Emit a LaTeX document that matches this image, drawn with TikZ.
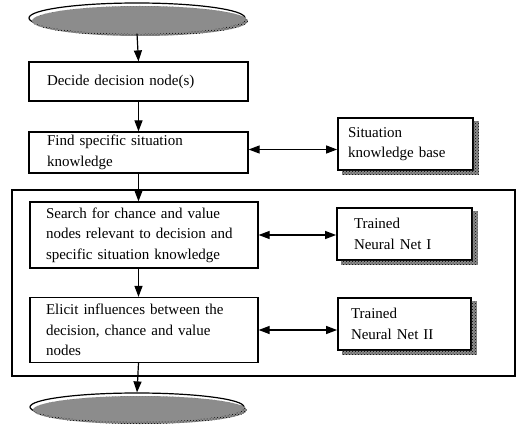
\documentclass[tikz,border=0pt]{standalone}
\usepackage{fontspec}
\setmainfont{Liberation Serif}
\usepackage{tikz}
\usetikzlibrary{arrows.meta,calc,shapes.geometric,patterns}

\begin{document}
\begin{tikzpicture}[x=1pt,y=-1pt,
  font=\fontsize{15}{20.5}\selectfont,
  stepbox/.style={draw,line width=1.2pt,fill=white,align=left,inner sep=0pt},
  kbbox/.style={draw,line width=1.8pt,fill=white,align=left,inner sep=0pt},
  terminal/.style={draw,ellipse,line width=1.2pt,fill=white,inner sep=0pt},
  shadowfill/.style={preaction={fill=black!45},pattern=crosshatch dots,pattern color=black},
  flow/.style={line width=1.2pt,-{Triangle[length=11pt,width=8pt]}},
  both/.style={line width=1.2pt,{Triangle[length=11pt,width=8pt]}-{Triangle[length=11pt,width=8pt]}}]
\useasboundingbox (0,0) rectangle (519,425);

% outer frame of the neural net part
\draw[line width=2.2pt] (12,190) rectangle (515,376);

\node[terminal,minimum width=216,minimum height=30] (prob) at (137,18) {Decision problem};
\node[stepbox,minimum width=219,minimum height=39,text width=183] (dec) at (138.5,81.5) {Decide decision node(s)};
\node[stepbox,minimum width=219,minimum height=41,text width=183] (find) at (138.5,152.5) {Find specific situation\\knowledge};
\node[kbbox,minimum width=135,minimum height=52,text width=115] (kb) at (405.5,144) {Situation\\knowledge base};
\node[stepbox,minimum width=228,minimum height=66,text width=196] (search) at (144,235) {Search for chance and value\\nodes relevant to decision and\\specific situation knowledge};
\node[kbbox,minimum width=135,minimum height=52,text width=101] (nna) at (404.5,234) {Trained\\Neural Net I};
\node[stepbox,minimum width=228,minimum height=65,text width=196] (elicit) at (144,330) {Elicit influences between the\\decision, chance and value\\nodes};
\node[kbbox,minimum width=133,minimum height=52,text width=107] (nnb) at (404.5,324) {Trained\\Neural Net II};
\node[terminal,minimum width=214,minimum height=28] (diag) at (137,407) {An influence diagram};

% shadows
\foreach \bx in {kb,nna,nnb}
  \fill[shadowfill] ($(\bx.south west)+(5,0)$) -- ++(0,4) -- ($(\bx.south east)+(5,4)$)
    -- ($(\bx.north east)+(5,4)$) -- ($(\bx.north east)+(0,4)$) -- (\bx.south east) -- cycle;
\begin{scope}
  \clip ($(prob.center)+(3,3)$) ellipse [x radius=108, y radius=15];
  \fill[shadowfill,even odd rule] ($(prob.center)+(3,3)$) ellipse [x radius=108, y radius=15]
    (prob.center) ellipse [x radius=108.8, y radius=15.8];
\end{scope}
\begin{scope}
  \clip ($(diag.center)+(3,3)$) ellipse [x radius=107, y radius=14];
  \fill[shadowfill,even odd rule] ($(diag.center)+(3,3)$) ellipse [x radius=107, y radius=14]
    (diag.center) ellipse [x radius=107.8, y radius=14.8];
\end{scope}

\draw[flow] (prob.south) -- (dec.north);
\draw[flow] (dec.south) -- (find.north);
\draw[flow] (find.south) -- (find.south |- search.north);
\draw[flow] (find.south |- search.south) -- (find.south |- elicit.north);
\draw[flow] (find.south |- elicit.south) -- (diag.north);
\draw[both] ($(find.east)+(0,-3)$) -- ($(find.east -| kb.west)+(0,-3)$);
\draw[both] (search.east) -- (search.east -| nna.west);
\draw[both] (elicit.east) -- (elicit.east -| nnb.west);
\end{tikzpicture}
\end{document}
